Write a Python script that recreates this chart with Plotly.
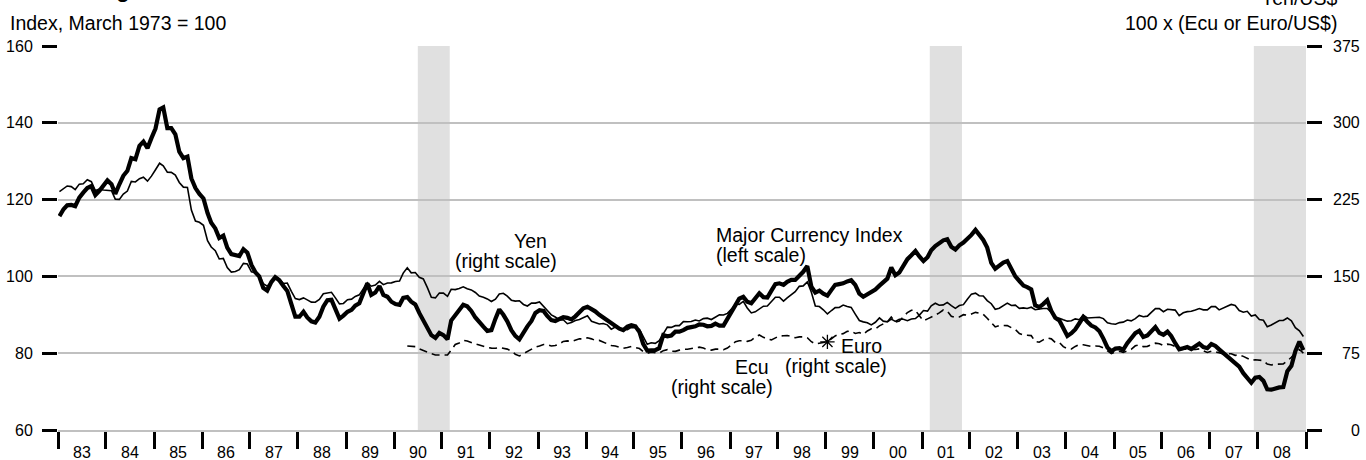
import pandas as pd
import plotly.graph_objects as go

# ---------------- data (monthly, Jan 1983 - Dec 2008) ----------------
mci = [
    115.7, 117.5, 118.5, 118.6, 118.3, 120.5, 121.8, 123.0, 123.5, 121.2, 122.3, 123.8,  # 1983
    125.0, 124.0, 121.5, 124.0, 126.2, 127.5, 130.8, 130.5, 134.0, 135.1, 133.4, 136.0,  # 1984
    138.5, 143.5, 144.0, 138.6, 138.6, 137.0, 132.5, 130.8, 131.2, 125.5, 123.0, 121.5,  # 1985
    120.3, 116.5, 114.0, 112.5, 110.0, 110.6, 107.5, 105.8, 105.5, 105.3, 107.1, 106.2,  # 1986
    103.0, 101.0, 100.0, 97.0, 96.3, 98.5, 99.8, 99.0, 97.5, 96.2, 92.8, 89.5,  # 1987
    89.5, 90.8, 89.3, 88.3, 88.0, 89.5, 92.1, 93.8, 93.9, 91.2, 89.0, 89.8,  # 1988
    90.8, 91.3, 92.4, 93.0, 95.5, 98.2, 95.2, 95.8, 97.5, 95.2, 94.7, 93.4,  # 1989
    92.8, 92.6, 94.4, 94.6, 93.4, 92.7, 90.5, 88.6, 87.0, 84.7, 84.0, 85.3,  # 1990
    84.7, 83.6, 88.5, 90.0, 91.0, 92.6, 92.2, 91.0, 89.3, 88.0, 86.9, 85.8,  # 1991
    86.0, 89.0, 91.4, 90.0, 88.3, 86.0, 84.5, 83.6, 85.5, 87.0, 88.4, 90.5,  # 1992
    91.2, 91.0, 89.7, 88.6, 88.4, 89.0, 89.4, 89.2, 88.8, 89.6, 90.6, 91.7,  # 1993
    92.1, 91.6, 90.9, 90.0, 89.3, 88.4, 87.6, 87.0, 86.4, 86.0, 86.9, 87.3,  # 1994
    87.0, 85.5, 82.4, 80.7, 80.8, 80.8, 81.3, 84.7, 84.4, 84.6, 85.6, 85.6,  # 1995
    86.0, 86.6, 86.8, 87.0, 87.5, 87.4, 87.0, 87.1, 87.7, 87.2, 87.2, 89.0,  # 1996
    90.8, 93.0, 94.2, 94.7, 93.4, 93.0, 94.5, 95.6, 94.6, 94.5, 96.3, 98.0,  # 1997
    98.2, 97.8, 98.6, 99.1, 99.1, 100.2, 101.2, 102.7, 97.3, 95.8, 96.3, 95.5,  # 1998
    95.0, 96.5, 97.8, 98.0, 98.2, 98.7, 99.0, 97.8, 95.5, 94.7, 95.3, 96.0,  # 1999
    96.6, 97.6, 98.6, 99.4, 102.3, 100.3, 101.0, 102.8, 104.5, 105.5, 106.6, 105.2,  # 2000
    104.0, 105.0, 106.8, 107.9, 108.8, 109.4, 109.7, 107.7, 107.0, 108.1, 108.8, 109.7,  # 2001
    110.8, 112.1, 111.0, 109.5, 107.5, 103.5, 102.0, 102.9, 103.6, 104.0, 102.0, 100.0,  # 2002
    98.8, 97.6, 97.2, 96.6, 92.5, 92.0, 92.8, 93.8, 91.0, 89.2, 88.5, 86.3,  # 2003
    84.5, 85.2, 86.2, 87.8, 89.4, 88.2, 87.2, 86.7, 85.7, 83.8, 81.5, 80.5,  # 2004
    81.2, 81.3, 80.9, 82.6, 84.0, 85.2, 85.8, 84.2, 84.6, 85.8, 86.8, 85.3,  # 2005
    84.8, 85.6, 84.5, 82.6, 81.0, 81.3, 81.6, 81.1, 81.8, 82.5, 81.6, 81.3,  # 2006
    82.4, 81.9, 81.0, 80.1, 79.2, 78.5, 77.6, 76.5, 74.8, 73.5, 72.3, 73.6,  # 2007
    73.8, 72.8, 70.6, 70.5, 70.9, 71.1, 71.2, 75.3, 76.7, 80.5, 83.0, 80.8,  # 2008
]

yen = [
    232.7, 236.1, 238.3, 237.7, 234.8, 240.1, 240.5, 244.4, 242.5, 233.8, 235.2, 234.3,  # 1983
    233.9, 233.6, 225.4, 225.2, 230.4, 233.3, 242.7, 242.2, 245.4, 246.8, 243.0, 247.9,  # 1984
    254.2, 260.5, 257.9, 251.7, 251.6, 248.9, 241.7, 237.2, 236.9, 214.7, 204.1, 202.8,  # 1985
    199.9, 184.9, 178.7, 175.1, 167.0, 167.5, 158.6, 154.2, 154.7, 156.5, 162.7, 162.1,  # 1986
    154.5, 153.5, 151.6, 143.0, 140.5, 144.5, 150.2, 147.6, 143.0, 143.5, 135.4, 128.3,  # 1987
    127.4, 129.0, 127.1, 124.9, 124.8, 127.5, 133.1, 133.9, 134.5, 129.0, 123.2, 123.6,  # 1988
    127.2, 127.8, 130.4, 132.0, 138.4, 143.9, 140.4, 141.5, 145.1, 141.9, 143.5, 143.7,  # 1989
    145.1, 145.5, 153.2, 158.5, 153.5, 153.8, 149.2, 147.5, 139.0, 129.7, 129.0, 133.7,  # 1990
    133.7, 130.5, 137.4, 137.1, 138.2, 139.8, 137.9, 136.8, 134.3, 130.8, 129.6, 128.0,  # 1991
    125.5, 127.7, 132.9, 133.5, 130.7, 126.8, 125.9, 126.2, 122.6, 121.1, 123.9, 123.9,  # 1992
    125.0, 120.8, 117.0, 112.4, 110.3, 107.4, 107.7, 103.8, 105.0, 106.9, 107.9, 109.9,  # 1993
    111.5, 106.2, 105.1, 103.5, 104.0, 102.7, 98.5, 100.5, 98.8, 98.4, 98.0, 100.2,  # 1994
    99.8, 98.2, 90.8, 83.7, 85.2, 84.6, 87.2, 94.6, 100.5, 100.2, 101.9, 101.9,  # 1995
    105.8, 105.7, 105.9, 107.4, 106.5, 108.8, 109.2, 107.9, 109.8, 112.4, 112.3, 113.9,  # 1996
    118.0, 123.0, 122.7, 125.6, 119.2, 114.3, 115.4, 117.9, 120.9, 121.1, 125.4, 129.7,  # 1997
    129.6, 125.8, 129.0, 131.8, 135.0, 140.3, 140.7, 144.7, 134.5, 121.1, 120.6, 117.4,  # 1998
    113.3, 116.7, 119.5, 119.7, 122.0, 120.7, 119.7, 113.2, 106.9, 105.6, 104.7, 102.6,  # 1999
    105.2, 109.4, 106.3, 105.6, 108.3, 106.1, 108.2, 108.1, 106.8, 108.4, 108.9, 112.2,  # 2000
    116.7, 116.1, 121.2, 123.8, 121.8, 122.2, 124.6, 121.5, 118.8, 121.5, 122.4, 127.6,  # 2001
    132.7, 133.6, 131.1, 130.8, 126.4, 123.3, 117.9, 118.9, 121.1, 123.9, 121.6, 121.9,  # 2002
    118.8, 119.3, 118.7, 119.9, 117.4, 118.3, 118.7, 118.7, 114.8, 109.5, 109.2, 107.7,  # 2003
    106.3, 106.7, 108.5, 107.7, 112.2, 109.4, 109.5, 110.2, 110.1, 108.8, 104.7, 103.8,  # 2004
    103.3, 104.9, 105.3, 107.4, 106.6, 108.8, 111.9, 110.6, 111.2, 114.9, 118.5, 118.5,  # 2005
    115.5, 117.9, 117.3, 117.1, 111.7, 114.5, 115.6, 115.9, 117.2, 118.6, 117.3, 117.3,  # 2006
    120.6, 120.5, 117.3, 118.8, 120.8, 122.6, 121.6, 116.7, 115.0, 115.9, 111.2, 112.4,  # 2007
    107.8, 107.1, 100.8, 102.6, 104.4, 106.9, 106.9, 109.4, 106.6, 99.9, 96.8, 91.3,  # 2008
]

# 100 x (Ecu/US$), Apr 1990 - Dec 1998
ecu = [
    82.0, 81.8, 81.4, 79.2, 77.5, 76.5, 74.5, 73.3, 73.5,  # 1990 (Apr-Dec)
    73.5, 73.2, 78.0, 83.5, 85.0, 87.5, 87.0, 85.3, 84.0, 83.0, 81.5, 80.5,  # 1991
    80.0, 79.8, 80.5, 80.0, 79.0, 77.0, 74.0, 72.3, 74.5, 76.5, 79.5, 81.0,  # 1992
    82.0, 83.5, 83.5, 82.0, 82.5, 84.0, 86.5, 87.0, 86.5, 87.5, 89.0, 89.0,  # 1993
    90.0, 89.0, 87.5, 87.5, 86.0, 84.5, 82.5, 82.0, 81.2, 79.8, 80.5, 81.5,  # 1994
    80.5, 79.5, 76.5, 75.0, 76.0, 75.8, 75.0, 77.5, 78.5, 77.0, 76.8, 78.0,  # 1995
    78.8, 78.8, 79.3, 80.3, 80.9, 80.0, 78.6, 78.0, 79.0, 79.0, 78.4, 80.0,  # 1996
    83.0, 86.3, 87.1, 87.3, 86.6, 87.6, 90.9, 92.8, 90.5, 88.7, 88.0, 90.3,  # 1997
    91.9, 92.0, 92.3, 91.3, 90.1, 90.9, 90.9, 90.1, 86.2, 84.0, 85.1, 85.5,  # 1998
]

# 100 x (Euro/US$), Jan 1999 - Dec 2008
euro = [
    86.1, 89.2, 91.9, 93.5, 94.1, 96.3, 96.6, 94.3, 95.2, 93.4, 96.7, 98.9,  # 1999
    98.7, 101.7, 103.7, 105.6, 110.4, 105.4, 106.4, 110.6, 114.7, 117.0, 116.8, 111.5,  # 2000
    106.6, 108.5, 109.9, 112.1, 114.4, 117.2, 116.1, 111.1, 109.8, 110.4, 112.6, 112.1,  # 2001
    113.3, 114.9, 114.2, 112.9, 109.1, 104.7, 100.7, 102.1, 101.9, 101.9, 99.9, 98.2,  # 2002
    94.2, 92.8, 92.6, 92.2, 86.4, 85.7, 88.0, 89.8, 89.0, 85.5, 85.5, 81.4,  # 2003
    79.3, 79.1, 81.6, 83.4, 83.3, 82.4, 81.5, 82.1, 81.8, 80.1, 77.0, 74.6,  # 2004
    76.2, 76.9, 75.8, 77.3, 78.7, 82.2, 83.1, 81.4, 81.7, 83.2, 84.8, 84.3,  # 2005
    82.4, 83.8, 83.2, 81.5, 78.3, 79.0, 78.9, 78.1, 78.6, 79.2, 77.6, 75.7,  # 2006
    76.9, 76.5, 75.5, 74.3, 74.2, 74.5, 72.9, 73.4, 71.9, 70.3, 68.1, 68.6,  # 2007
    67.9, 67.8, 64.4, 63.5, 64.3, 64.3, 64.5, 67.5, 71.0, 75.5, 78.6, 75.0,  # 2008
]

recessions = [("1990-07-01", "1991-03-01"), ("2001-03-01", "2001-11-01"), ("2007-12-01", "2009-01-01")]
left_ticks = [60, 80, 100, 120, 140, 160]
right_ticks = [0, 75, 150, 225, 300, 375]

# ---------------- figure ----------------
months = pd.date_range("1983-01-01", "2008-12-01", freq="MS") + pd.Timedelta(days=11)
ecu_dates = months[(1990 - 1983) * 12 + 3:(1999 - 1983) * 12]
euro_dates = months[(1999 - 1983) * 12:]
ecu_euro_dates = list(ecu_dates) + list(euro_dates)
ecu_euro = ecu + euro

FONT = "Liberation Sans, Arial, Helvetica, sans-serif"
TXT = 19.5
fig = go.Figure()

for x0, x1 in recessions:
    fig.add_vrect(x0=x0, x1=x1, fillcolor="#e0e0e0", line_width=0, layer="below")

# right-scale series (main y axis)
fig.add_trace(go.Scatter(x=months, y=yen, mode="lines", yaxis="y",
                         line=dict(color="black", width=1.6), name="Yen"))
fig.add_trace(go.Scatter(x=ecu_euro_dates, y=ecu_euro, mode="lines", yaxis="y",
                         line=dict(color="black", width=1.6, dash="8px,5px"), name="Ecu / Euro"))
fig.add_trace(go.Scatter(x=[euro_dates[0]], y=[euro[0]], mode="markers", yaxis="y",
                         marker=dict(symbol="asterisk-open", size=12, color="black",
                                     line=dict(color="black", width=1.3)),
                         name="Euro start"))
# left-scale series (overlaying axis, drawn on top)
fig.add_trace(go.Scatter(x=months, y=mci, mode="lines", yaxis="y2",
                         line=dict(color="black", width=4.2), name="Major Currency Index"))

ann = []
def label(text, x, y, xanchor="center", yref="y2", size=TXT):
    ann.append(dict(text=text, x=x, y=y, xref="x", yref=yref, xanchor=xanchor,
                    yanchor="middle", showarrow=False, font=dict(size=size, color="black", family=FONT)))

label("Yen", "1992-11-07", 109.1)
label("(right scale)", "1992-05-01", 104.1)
label("Major Currency Index", "1996-09-01", 110.9, xanchor="left")
label("(left scale)", "1996-09-01", 105.7, xanchor="left")
label("Ecu", "1997-06-17", 76.4)
label("(right scale)", "1996-11-01", 71.2)
label("Euro", "1999-10-01", 82.0)
label("(right scale)", "1999-03-16", 76.7)

for v in right_ticks:
    ann.append(dict(text=str(v), x=1.0449, y=v, xref="paper", yref="y", xanchor="right",
                    yanchor="middle", showarrow=False, font=dict(size=16, color="black", family=FONT)))

ann.append(dict(text="Index, March 1973 = 100", x=-0.0400, y=1.0599, xref="paper", yref="paper",
                xanchor="left", yanchor="middle", showarrow=False,
                font=dict(size=TXT, color="black", family=FONT)))
ann.append(dict(text="100 x (Ecu or Euro/US$)", x=1.0264, y=1.0599, xref="paper", yref="paper",
                xanchor="right", yanchor="middle", showarrow=False,
                font=dict(size=TXT, color="black", family=FONT)))
ann.append(dict(text="Yen/US$", x=1.0264, y=1.125, xref="paper", yref="paper",
                xanchor="right", yanchor="middle", showarrow=False,
                font=dict(size=TXT, color="black", family=FONT)))
ann.append(dict(text="<b>Exchange Rates</b>", x=-0.0176, y=1.148, xref="paper", yref="paper",
                xanchor="left", yanchor="middle", showarrow=False,
                font=dict(size=22, color="black", family=FONT)))

fig.update_layout(
    width=1366, height=460,
    margin=dict(l=58, r=60, t=46, b=30, autoexpand=False),
    paper_bgcolor="white", plot_bgcolor="white",
    showlegend=False,
    font=dict(family=FONT, size=16, color="black"),
    annotations=ann,
    xaxis=dict(type="date", range=["1983-01-01", "2009-01-01"], tick0="1983-01-01", dtick="M12",
               ticklabelmode="period", tickformat="%y", ticks="outside", ticklen=17, tickwidth=2.5,
               tickcolor="black", showgrid=False, showline=True, linecolor="#c0c0c0", linewidth=2,
               zeroline=False, tickfont=dict(size=16), automargin=False, ticklabelstandoff=-10),
    yaxis=dict(side="right", range=[0, 375], tickvals=right_ticks, ticks="outside", ticklen=15,
               tickwidth=2.5, tickcolor="black", showticklabels=False, showgrid=True,
               gridcolor="#c0c0c0", gridwidth=2, zeroline=False, showline=False, automargin=False),
    yaxis2=dict(side="left", overlaying="y", range=[60, 160], tickvals=left_ticks, ticks="outside",
                ticklen=15, tickwidth=2.5, tickcolor="black", showgrid=False, zeroline=False,
                showline=False, tickfont=dict(size=16), automargin=False, ticklabelstandoff=6),
)

fig.write_html("out.html", config={"displayModeBar": False},
               post_script="document.body.style.margin='0';")
